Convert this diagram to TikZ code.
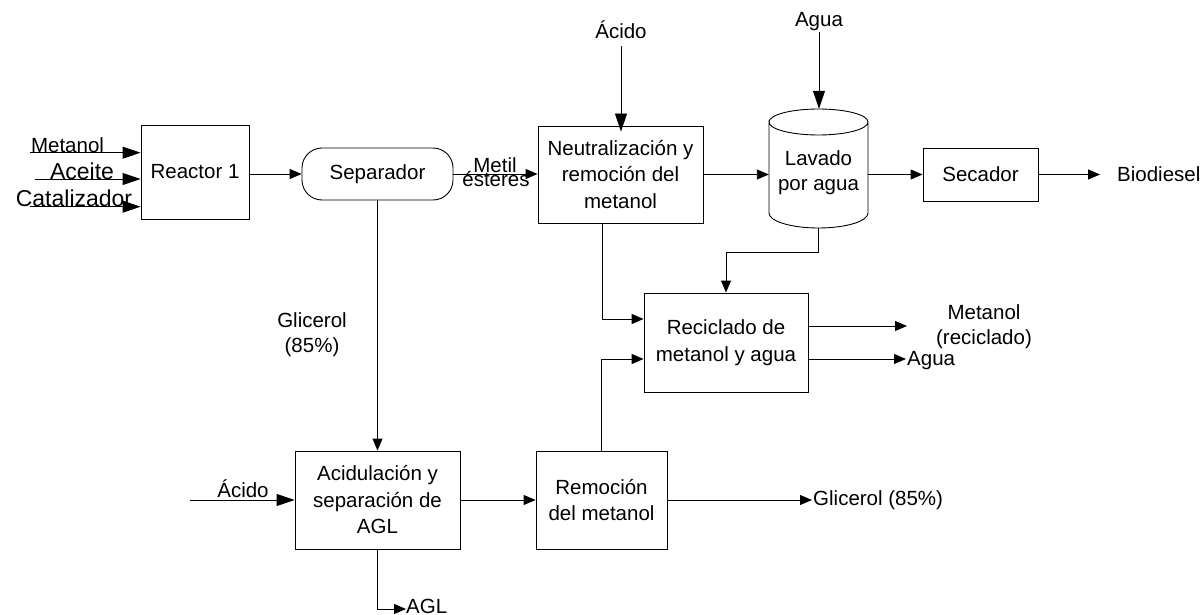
\documentclass[tikz,border=0pt]{standalone}
\usepackage{fontspec}
\setmainfont{Liberation Sans}
\usetikzlibrary{arrows.meta,positioning,calc}
\tikzset{proc/.style={draw=black, line width=0.9pt, inner sep=0pt, align=center, font=\fontsize{20.5}{26.5}\selectfont}}
\tikzset{lbl/.style={inner sep=1pt, align=center, font=\fontsize{20.5}{25}\selectfont}}
\tikzset{lblbig/.style={inner sep=1pt, font=\fontsize{23}{25}\selectfont}}
\tikzset{flow/.style={draw=black, line width=0.9pt, -{Triangle[length=12pt,width=10pt]}}}
\tikzset{feed/.style={draw=black, line width=0.9pt, -{Triangle[length=18pt,width=12pt]}}}

\begin{document}
\begin{tikzpicture}[x=1pt, y=1pt]
\useasboundingbox (0,0) rectangle (1202,-615);

\node[proc, minimum width=108pt, minimum height=94pt] (reac) at (195,-172) {Reactor 1};
\node[proc, rounded corners=20pt, minimum width=151pt, minimum height=52pt] (sep) at (377.5,-174) {Separador};
\node[proc, minimum width=165pt, minimum height=97pt] (neu) at (620.5,-174.5) {Neutralización y\\remoción del\\metanol};
\node[lbl, inner sep=0pt, minimum width=99pt, minimum height=128pt] (lav) at (818.5,-173) {Lavado\\por agua};
\node[proc, minimum width=115pt, minimum height=53pt] (sec) at (980.5,-174.5) {Secador};
\node[lbl, anchor=west] (bio) at (1116,-174.5) {Biodiesel};
\node[proc, minimum width=164pt, minimum height=99pt] (rec) at (726,-342.5) {Reciclado de\\metanol y agua};
\node[proc, minimum width=165pt, minimum height=98pt] (aci) at (377.5,-500) {Acidulación y\\separación de\\AGL};
\node[proc, minimum width=131pt, minimum height=98pt] (rem) at (601.5,-500) {Remoción\\del metanol};

\draw[line width=0.9pt, shift={(lav.center)}]
    (-49.5,51) arc[start angle=180, end angle=0, x radius=49.5pt, y radius=13pt]
    arc[start angle=0, end angle=-180, x radius=49.5pt, y radius=13pt]
    -- (-49.5,-40) arc[start angle=180, end angle=360, x radius=49.5pt, y radius=15pt]
    -- (49.5,51);
\coordinate (lavbot) at ($(lav.center)+(0,-55)$);

\node[lbl, anchor=base] (lmet) at (67.5,-152.7) {Metanol};
\node[lblbig, anchor=base] (lace) at (82,-179) {Aceite};
\node[lblbig, anchor=base] (lcat) at (74,-206.7) {Catalizador};
\coordinate (inmet) at (30,-152.7);
\coordinate (inace) at (35,-179);
\coordinate (incat) at (30,-206.7);

\node[lbl] (acn) at (621,-30) {Ácido};
\node[lbl] (agn) at (819,-21.5) {Agua};
\node[lbl, anchor=base] (lmetil) at (495,-172.5) {Metil};
\node[lbl, anchor=base] (lester) at (496,-186) {ésteres};
\node[lbl] (lgli) at (312,-335) {Glicerol\\(85\%)};
\node[lbl, anchor=base] (lacl) at (243,-497) {Ácido};
\coordinate (inacl) at (190,-500);
\node[lbl, anchor=west, inner sep=0pt] (lagl) at (406,-606.5) {AGL};
\coordinate (outagl) at (406,-609);
\node[lbl, anchor=west] (lglo) at (812,-500) {Glicerol (85\%)};
\node[lbl] (lmre) at (984,-327) {Metanol\\(reciclado)};
\coordinate (outmet) at (907,-326);
\node[lbl, anchor=west] (lagu) at (906,-361) {Agua};

\draw
(inmet) edge[feed] (inmet -| reac.west)
(inace) edge[feed] (inace -| reac.west)
(incat) edge[feed] (incat -| reac.west)
([yshift=-6pt]acn.south) edge[feed] ([yshift=-6pt]acn.south |- neu.north)
(agn.south) edge[feed] (agn.south |- lav.north)
(inacl) edge[feed] (aci.west);

\draw
(reac.east |- sep.west) edge[flow] (sep.west)
(sep.east) edge[flow] (neu.west |- sep.east)
(neu.east) edge[flow] (neu.east -| lav.west)
(lav.east |- sec.west) edge[flow] (sec.west)
(sec.east) edge[flow, shorten >=16pt] (bio.west)
(sep.south) edge[flow] (aci.north)
(aci.east) edge[flow] (rem.west)
(rem.east) edge[flow] (lglo.west)
(rec.east |- outmet) edge[flow] (outmet)
([yshift=-16.5pt]rec.east) edge[flow] ([yshift=-16.5pt]rec.east -| lagu.west);

\draw[flow] ([xshift=-18.5pt]neu.south) |- ([yshift=23.5pt]rec.west);
\draw[flow] (rem.north) |- ([yshift=-16.5pt]rec.west);
\draw[flow] (lavbot) -- ++(0,-24) -| (rec.north);
\draw[flow] (aci.south) |- (outagl);
\end{tikzpicture}
\end{document}
